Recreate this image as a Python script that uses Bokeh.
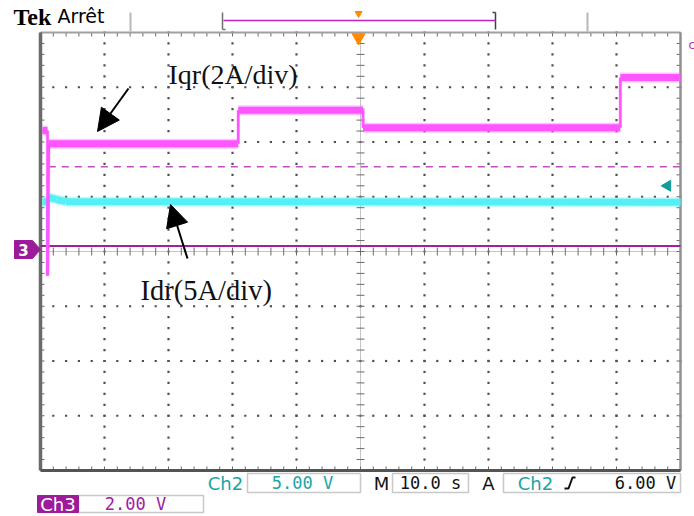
import numpy as np
from bokeh.plotting import figure
from bokeh.models import Range1d, Arrow, NormalHead
from bokeh.core.properties import value
from bokeh.embed import file_html
from bokeh.resources import INLINE

# ---------------- data (time in s, 10 s/div ; amplitude in screen divisions) ----------------
iqr_time = [0.3, 1.1, 1.1, 1.3, 30.9, 30.9, 50.4, 50.4, 90.6, 90.6, 100.0]
iqr_level = [2.21, 2.21, -0.44, 1.97, 1.97, 2.58, 2.58, 2.26, 2.26, 3.18, 3.18]
idr_time = [0.3, 1.1, 1.1, 1.3, 2.5, 4.0, 100.0]
idr_level = [0.91, 0.91, -0.35, 0.99, 0.95, 0.91, 0.90]
ch3_ground_level = 0.1
iqr_ref_start, iqr_ref_level = 1.3, 1.55
idr_marker_level = 1.2
trigger_time = 49.7
label_iqr = "Iqr(2A/div)"
label_idr = "Idr(5A/div)"
ch2_scale, ch3_scale, timebase, trig_level = "5.00 V", "2.00 V", "10.0 s", "6.00 V"

SEC_PER_DIV, NDIV_X, NDIV_Y = 10.0, 10, 8
PX_DIV_X, PX_DIV_Y = 64.0, 54.75
LEFT_PX, CENTER_Y_PX = 40.0, 251.0
W, H = 694, 516


def X(px):
    return (px - LEFT_PX) / PX_DIV_X * SEC_PER_DIV


def Y(py):
    return (CENTER_Y_PX - py) / PX_DIV_Y


p = figure(width=W, height=H, output_backend="svg", toolbar_location=None,
           x_range=Range1d(X(0), X(W)), y_range=Range1d(Y(H), Y(0)),
           min_border=0, outline_line_color=None, background_fill_color="white")
p.xaxis.visible = False
p.yaxis.visible = False
p.grid.visible = False

T_END = NDIV_X * SEC_PER_DIV
YT, YB = NDIV_Y / 2, -NDIV_Y / 2
dot = "#505050"

# ---------------- graticule ----------------
gx, gy = [], []
for k in range(1, NDIV_X):
    if k == NDIV_X // 2:
        continue
    for yy in np.arange(YB, YT + 1e-9, 0.2):
        gx.append(k * SEC_PER_DIV); gy.append(yy)
for k in range(-3, 4):
    if k == 0:
        continue
    for xx in np.arange(0, T_END + 1e-9, SEC_PER_DIV / 5):
        gx.append(xx); gy.append(k)
p.scatter(gx, gy, marker="square", size=2.2, color=dot, line_color=None)

# center crosshair
p.line([0, T_END], [0, 0], color="#8a8a8a", line_width=1, line_dash="1 1")
p.line([T_END / 2, T_END / 2], [YB, YT], color="#8a8a8a", line_width=1, line_dash="1 1")
tick_x = np.arange(0, T_END + 1e-9, SEC_PER_DIV / 5)
tick_y = np.arange(YB, YT + 1e-9, 0.2)
hy = 4 / PX_DIV_Y
hx = 4 / PX_DIV_X * SEC_PER_DIV
p.segment(x0=tick_x, y0=-hy, x1=tick_x, y1=hy, color="#6a6a6a", line_width=1)
p.segment(x0=T_END / 2 - hx, y0=tick_y, x1=T_END / 2 + hx, y1=tick_y, color="#6a6a6a", line_width=1)

# border ticks (inward)
p.segment(x0=tick_x, y0=YT, x1=tick_x, y1=YT - hy, color="#6a6a6a", line_width=1)
p.segment(x0=tick_x, y0=YB, x1=tick_x, y1=YB + hy, color="#6a6a6a", line_width=1)
p.segment(x0=0, y0=tick_y, x1=hx, y1=tick_y, color="#6a6a6a", line_width=1)
p.segment(x0=T_END, y0=tick_y, x1=T_END - hx, y1=tick_y, color="#6a6a6a", line_width=1)

# border
p.line([0, T_END], [YT, YT], color="#a0a0a0", line_width=2)
p.line([T_END, T_END], [YB, YT], color="#909090", line_width=2.5)
p.line([0, 0], [YB, YT], color="#6a6a6a", line_width=3.5)
p.line([0, T_END], [YB, YB], color="#555555", line_width=3)

# ---------------- reference lines ----------------
p.line([0, T_END], [ch3_ground_level, ch3_ground_level], color="#a020a0", line_width=2)
p.line([iqr_ref_start, T_END], [iqr_ref_level, iqr_ref_level], color="#c050c0",
       line_width=1.5, line_dash="7 6")


# ---------------- traces ----------------
def trace(t, v, color):
    xs, ys, ws, wf = [], [], [], []
    for i in range(len(t) - 1):
        xs.append([t[i], t[i + 1]]); ys.append([v[i], v[i + 1]])
        flat = abs(v[i + 1] - v[i]) < 0.1
        ws.append(7 if flat else 2.5)
        wf.append(10 if flat else 3.5)
    p.multi_line(xs=xs, ys=ys, line_width=wf, color=color, line_alpha=0.35, line_cap="butt")
    p.multi_line(xs=xs, ys=ys, line_width=ws, color=color, line_cap="butt", line_join="miter")


trace(idr_time, idr_level, "#55f0f5")
trace(iqr_time, iqr_level, "#ff55ff")

# markers
p.scatter([X(667)], [idr_marker_level], marker="triangle", angle=np.pi / 2, size=11,
          color="#139c9c")
p.scatter([trigger_time], [Y(37)], marker="inverted_triangle", size=13, color="#ff8a00")
p.scatter([trigger_time], [Y(13)], marker="inverted_triangle", size=7, color="#ff8a00")

# ch3 ground marker
p.patch([X(14), X(32), X(40), X(32), X(14)],
        [Y(240), Y(240), Y(249), Y(258), Y(258)], color="#9b1b9b")
p.text([X(23)], [Y(249.5)], text=["3"], text_color="white", text_align="center",
       text_baseline="middle", text_font=value("DejaVu Sans"), text_font_size="15px",
       text_font_style="bold")
p.text([X(688)], [Y(44)], text=["c"], text_color="#b030b0", text_align="left",
       text_baseline="middle", text_font=value("DejaVu Sans"), text_font_size="12px")

# ---------------- annotations ----------------
serif = value("Liberation Serif")
p.text([X(168)], [Y(74)], text=[label_iqr], text_font=serif, text_font_size="28px",
       text_color="#111111", text_baseline="alphabetic")
p.text([X(140)], [Y(290)], text=[label_idr], text_font=serif, text_font_size="28.5px",
       text_color="#111111", text_baseline="alphabetic")
p.add_layout(Arrow(end=NormalHead(size=22, fill_color="black", line_color="black"),
                   x_start=X(128), y_start=Y(88), x_end=X(97), y_end=Y(131),
                   line_width=2, line_color="black"))
p.add_layout(Arrow(end=NormalHead(size=22, fill_color="black", line_color="black"),
                   x_start=X(187), y_start=Y(258), x_end=X(170), y_end=Y(204),
                   line_width=2, line_color="black"))

# ---------------- header ----------------
p.text([X(13)], [Y(16)], text=["Tek"], text_font=value("Liberation Serif"), text_font_size="24px",
       text_font_style="bold", text_color="black", text_baseline="middle")
p.text([X(57)], [Y(15)], text=["Arrêt"], text_font=value("DejaVu Sans"), text_font_size="19px",
       text_color="black", text_baseline="middle")
for sx in (130, 587):
    p.line([X(sx), X(sx)], [Y(12), Y(31)], color="#b8b8b8", line_width=2)
p.line([X(222), X(222)], [Y(12), Y(29)], color="#707070", line_width=1.5)
p.line([X(222), X(225)], [Y(29), Y(29)], color="#707070", line_width=1.5)
p.line([X(495), X(495)], [Y(12), Y(29)], color="#404040", line_width=1.5)
p.line([X(492), X(495)], [Y(12), Y(12)], color="#404040", line_width=1.5)
p.line([X(223), X(495)], [Y(20), Y(20)], color="#c020c0", line_width=1.5)

# ---------------- footer ----------------
box_color = "#c8c8c8"
boxes = [(247, 360, 473, 492), (392, 468, 473, 492), (503, 680, 473, 492), (78, 203, 495, 512)]
for l, r, t, b in boxes:
    p.quad(left=X(l), right=X(r), top=Y(t), bottom=Y(b), fill_color="white",
           line_color=box_color, line_width=1.5)
p.quad(left=X(37), right=X(78), top=Y(495), bottom=Y(512), fill_color="#9b1b9b",
       line_color="#9b1b9b")

cyan = "#1aa5a5"
purple = "#a020a0"
sans = value("DejaVu Sans")
mono = value("DejaVu Sans Mono")
footer = [
    (225, 482.5, "Ch2", cyan, sans, "18px"), (302, 482.5, ch2_scale, cyan, mono, "17px"),
    (381, 482.5, "M", "#111111", sans, "18px"), (430, 482.5, timebase, "#111111", mono, "17px"),
    (488, 482.5, "A", "#111111", sans, "18px"),
    (535, 482.5, "Ch2", cyan, sans, "18px"), (645, 482.5, trig_level, "#111111", mono, "17px"),
    (57.5, 503.5, "Ch3", "white", sans, "18px"), (135, 503.5, ch3_scale, purple, mono, "17px"),
]
for fx, fy, txt, col, fnt, fs in footer:
    p.text([X(fx)], [Y(fy)], text=[txt], text_font=fnt, text_font_size=fs,
           text_color=col, text_align="center", text_baseline="middle")
p.line([X(564), X(568), X(572), X(575)], [Y(488), Y(488), Y(477), Y(477)],
       color="#111111", line_width=2)

open("out.html", "w").write(file_html(p, INLINE))
